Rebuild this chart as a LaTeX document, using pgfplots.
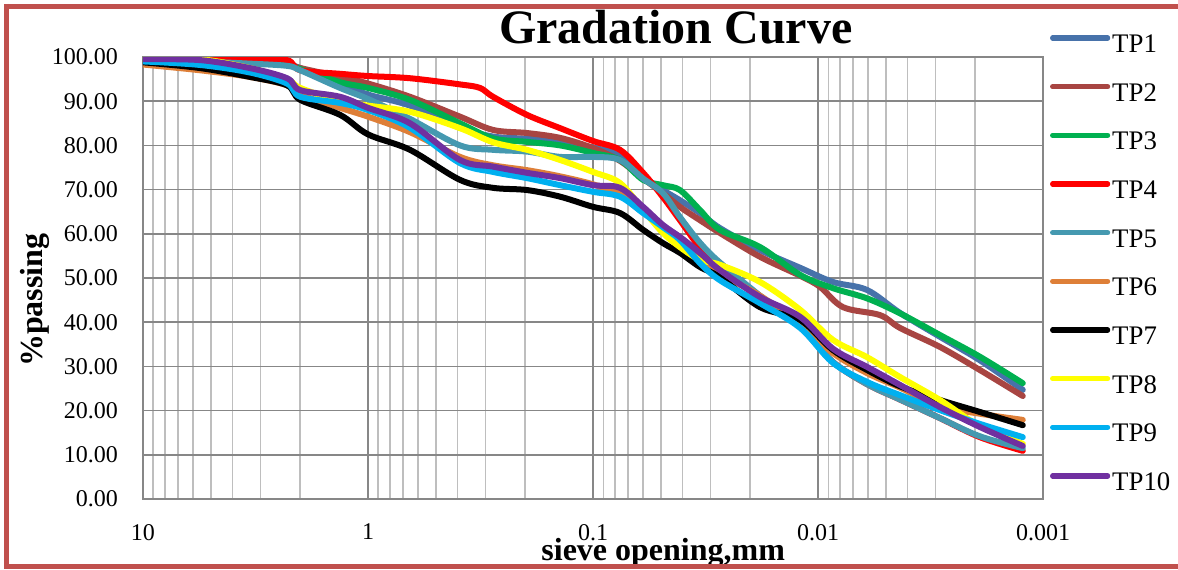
\documentclass[border=0pt]{standalone}
\usepackage{pgfplots}
\pgfplotsset{compat=1.18}
\usepackage{fontspec}
\setmainfont{Liberation Serif}
\definecolor{tp1}{HTML}{4772AA}
\definecolor{tp2}{HTML}{A84542}
\definecolor{tp3}{HTML}{00B050}
\definecolor{tp4}{HTML}{FF0000}
\definecolor{tp5}{HTML}{4599B0}
\definecolor{tp6}{HTML}{DE7F38}
\definecolor{tp7}{HTML}{000000}
\definecolor{tp8}{HTML}{FFFF00}
\definecolor{tp9}{HTML}{00B0F0}
\definecolor{tp10}{HTML}{7030A0}
\definecolor{gmaj}{HTML}{878787}
\definecolor{gmin}{HTML}{BEBEBE}
\definecolor{bord}{HTML}{C0504D}
\begin{document}
\begin{tikzpicture}[x=1pt,y=1pt]
\begin{axis}[
  at={(0,0)}, anchor=south west,
  scale only axis, width=450pt, height=221pt,
  xmode=log, x dir=reverse, xmin=0.001, xmax=10, ymin=0, ymax=100,
  xtick={0.001,0.01,0.1,1,10}, xticklabels={0.001,0.01,0.1,1,10},
  minor xtick={0.002,0.003,0.004,0.005,0.006,0.007,0.008,0.009,
               0.02,0.03,0.04,0.05,0.06,0.07,0.08,0.09,
               0.2,0.3,0.4,0.5,0.6,0.7,0.8,0.9,
               2,3,4,5,6,7,8,9},
  ytick={0,10,...,100},
  yticklabel={\pgfmathprintnumber[fixed,fixed zerofill,precision=2]{\tick}},
  /pgf/number format/assume math mode=true,
  grid=both,
  major grid style={draw=gmaj, line width=0.8pt},
  minor grid style={draw=gmin, line width=0.8pt},
  axis line style={draw=gmaj, line width=0.8pt},
  major tick length=0pt, minor tick length=0pt,
  tick label style={font=\fontsize{12}{12}\selectfont},
  yticklabel style={xshift=-9pt},
  xticklabel style={yshift=-9pt},
  title={Gradation Curve},
  title style={at={(axis description cs:0.592,1.0)}, anchor=base, yshift=1pt, inner sep=0pt, font=\bfseries\fontsize{24}{24}\selectfont},
  xlabel={sieve opening,mm},
  ylabel={\%passing},
  every axis x label/.style={at={(axis description cs:0.578,-0.138)}, anchor=base, inner sep=0pt, font=\bfseries\fontsize{16}{16}\selectfont},
  every axis y label/.style={at={(axis description cs:-0.12,0.45)}, anchor=center, rotate=90, font=\bfseries\fontsize{16}{16}\selectfont},
  legend style={at={(axis description cs:1.0078,1.0507)}, anchor=north west, draw=none, fill=none,
    inner sep=0pt, outer sep=0pt, row sep=12.33pt, column sep=1pt,
    font=\fontsize{13.4}{13.4}\selectfont,
    nodes={inner sep=0pt, text height=9pt, text depth=3pt}},
  legend cell align=left,
  legend image code/.code={\draw[#1, line cap=round, line width=2.6pt] (0pt,4.3pt) -- (27.5pt,4.3pt);},
  every axis plot/.append style={line width=3pt, smooth, tension=0.55, line join=round, line cap=round, mark=none},
]
\addplot[tp1] coordinates {(10,99.5)(5.58,99.2)(3.35,98.8)(2.29,98.2)(2.0,97.5)(1.33,94)(1.0,91.5)(0.651,89)(0.39,84)(0.278,82)(0.1965,81.5)(0.14,80.8)(0.1,79.5)(0.0759,77.8)(0.0599,73)(0.0489,69.9)(0.0411,67.6)(0.0335,64.7)(0.0273,61.3)(0.0181,56.3)(0.012,52.3)(0.00858,49.1)(0.00606,47.3)(0.00432,42.1)(0.00287,36.7)(0.00191,31.4)(0.00123,24.7)};
\addlegendentry{TP1}
\addplot[tp2] coordinates {(10,99.5)(5.58,99)(3.35,98.8)(2.29,98.3)(2.0,97.5)(1.33,95.5)(1.0,94)(0.651,91)(0.39,86.5)(0.278,83.5)(0.1965,82.8)(0.14,81.7)(0.1,79.4)(0.0759,76.5)(0.0599,72.5)(0.0489,69.2)(0.0411,66.1)(0.0335,63.1)(0.0273,60.2)(0.0181,54.8)(0.012,50.5)(0.0098,48)(0.00774,43.4)(0.0053,41.6)(0.00432,38.7)(0.00287,34.4)(0.00191,29.2)(0.00123,23.3)};
\addlegendentry{TP2}
\addplot[tp3] coordinates {(10,99.5)(5.58,99.2)(3.35,98.8)(2.29,98.2)(2.0,97.3)(1.33,94.3)(1.0,93)(0.651,90.3)(0.39,85)(0.278,81.6)(0.1965,80.8)(0.14,80)(0.1,78.3)(0.0759,76.7)(0.0599,72.2)(0.0489,71)(0.0411,69.9)(0.0335,65.4)(0.0273,60.9)(0.0181,57)(0.012,50.7)(0.00858,47.7)(0.00606,45.4)(0.00432,42)(0.00287,37.1)(0.00191,32.2)(0.00123,26.2)};
\addlegendentry{TP3}
\addplot[tp4] coordinates {(10,99.5)(5.58,99.8)(3.35,99.5)(2.29,99.3)(2.0,97)(1.33,96.2)(1.0,95.7)(0.651,95.2)(0.39,93.8)(0.318,93)(0.278,91)(0.1965,86.9)(0.14,83.9)(0.1,81)(0.0759,79)(0.0599,73.8)(0.0489,68.3)(0.0411,63.1)(0.0335,57)(0.0273,53.4)(0.0181,45.7)(0.012,38.9)(0.00858,31)(0.00606,26)(0.00432,22.5)(0.00287,18.3)(0.00191,14)(0.00123,10.9)};
\addlegendentry{TP4}
\addplot[tp5] coordinates {(10,99.5)(5.58,99)(3.35,98.5)(2.29,98)(2.0,97)(1.33,93)(1.0,90.5)(0.651,86)(0.39,80)(0.278,79)(0.1965,78.6)(0.14,77.4)(0.1,77.4)(0.0759,76.7)(0.0599,72.5)(0.0489,69.2)(0.0411,63.8)(0.0335,58)(0.0273,53.5)(0.0181,46)(0.012,39)(0.00858,31)(0.00606,26)(0.00432,22.5)(0.00287,18.3)(0.00191,14.2)(0.00123,11.5)};
\addlegendentry{TP5}
\addplot[tp6] coordinates {(10,98.3)(5.58,97)(3.35,95.5)(2.29,93.6)(2.0,91.5)(1.33,88.5)(1.0,86.5)(0.651,83)(0.39,77.4)(0.278,75.5)(0.1965,74.4)(0.14,73)(0.1,71.2)(0.0759,69)(0.0599,65.5)(0.0489,61.5)(0.0411,59)(0.0335,55)(0.0273,51)(0.0181,46)(0.012,39.5)(0.00858,33)(0.00606,28.5)(0.00432,25.2)(0.00287,21)(0.00191,19.3)(0.00123,17.9)};
\addlegendentry{TP6}
\addplot[tp7] coordinates {(10,98.8)(5.58,97.5)(3.35,95.5)(2.29,93.6)(2.0,90.3)(1.33,86.9)(1.0,82.5)(0.651,79)(0.39,72.2)(0.278,70.4)(0.1965,69.9)(0.14,68.4)(0.1,66.1)(0.0759,64.7)(0.0599,60.9)(0.0489,57.9)(0.0411,55.7)(0.0335,52.5)(0.0273,50.2)(0.0181,43.4)(0.012,40.5)(0.00858,33.7)(0.00606,29.2)(0.00432,25.5)(0.00287,22.4)(0.00191,19.7)(0.00123,16.7)};
\addlegendentry{TP7}
\addplot[tp8] coordinates {(10,99.5)(5.58,99.5)(3.35,97.5)(2.29,95)(2.0,93)(1.33,90)(1.0,89)(0.651,87.6)(0.39,83.9)(0.278,80.7)(0.1965,79)(0.14,76.7)(0.1,74)(0.0759,71.5)(0.0599,65.4)(0.0489,60.2)(0.0411,57)(0.0335,54.1)(0.0273,53)(0.0181,49.1)(0.012,42.8)(0.00858,36)(0.00606,32.1)(0.00432,27.6)(0.00287,22.4)(0.00191,16.5)(0.00123,12.5)};
\addlegendentry{TP8}
\addplot[tp9] coordinates {(10,99)(5.58,98.2)(3.35,96.5)(2.29,94)(2.0,91)(1.33,89.6)(1.0,88)(0.651,84)(0.39,76)(0.278,74)(0.1965,72.6)(0.14,71)(0.1,69.5)(0.0759,68.4)(0.0599,64.7)(0.0489,61.5)(0.0411,58.6)(0.0335,53.4)(0.0273,49.5)(0.0181,44.3)(0.012,38.7)(0.00858,30.8)(0.00606,26.5)(0.00432,23.5)(0.00287,20.1)(0.00191,17)(0.00123,14)};
\addlegendentry{TP9}
\addplot[tp10] coordinates {(10,99.5)(5.58,99.3)(3.35,97.5)(2.29,95.2)(2.0,92.5)(1.33,91)(1.0,88.5)(0.651,85)(0.39,76.7)(0.278,75.2)(0.1965,73.8)(0.14,72.6)(0.1,71)(0.0759,70.4)(0.0599,66.1)(0.0489,62)(0.0411,59.3)(0.0335,55.7)(0.0273,51.8)(0.0181,45.7)(0.012,41.2)(0.00858,34)(0.00606,29.9)(0.00432,25.8)(0.00287,20.8)(0.00191,16.3)(0.00123,12)};
\addlegendentry{TP10}
\end{axis}
\draw[bord, line width=2.6pt] (-68.25,246.25) -- (545,246.25);
\draw[bord, line width=2.6pt] (-68.25,-33.75) -- (545,-33.75);
\draw[bord, line width=2.6pt] (-68.25,247.55) -- (-68.25,-35.05);
\pgfresetboundingbox
\useasboundingbox (-71.5,-35) rectangle (517.5,249.5);
\end{tikzpicture}
\end{document}
